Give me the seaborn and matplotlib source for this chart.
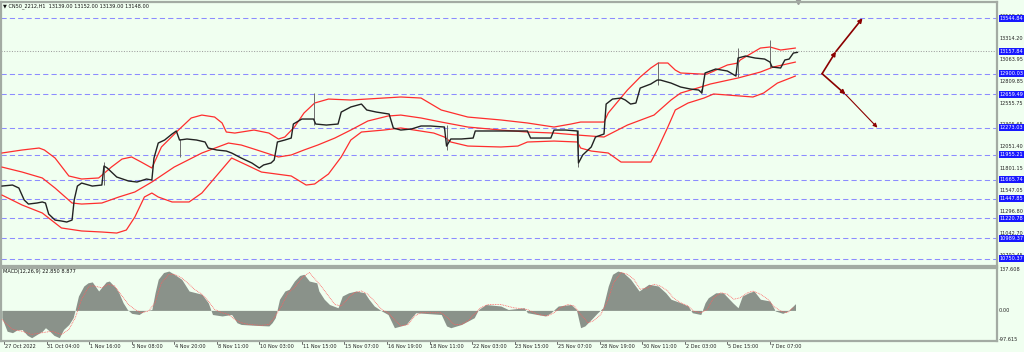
import matplotlib
matplotlib.use("Agg")
import matplotlib.pyplot as plt
import matplotlib.transforms as mtransforms
from matplotlib import font_manager
import pandas as pd
import seaborn as sns

# ---------------- data ----------------
title_text = "\u25bc CN50_2212,H1  13139.00 13152.00 13139.00 13148.00"
macd_text = "MACD(12,26,9) 22.850 8.877"

date_labels = ["27 Oct 2022", "31 Oct 04:00", "1 Nov 16:00", "3 Nov 08:00", "4 Nov 20:00",
               "8 Nov 11:00", "10 Nov 03:00", "11 Nov 15:00", "15 Nov 07:00", "16 Nov 19:00",
               "18 Nov 11:00", "22 Nov 03:00", "23 Nov 15:00", "25 Nov 07:00", "28 Nov 19:00",
               "30 Nov 11:00", "2 Dec 03:00", "5 Dec 15:00", "7 Dec 07:00"]
date_bars = [0, 40, 80, 120, 160, 200, 240, 280, 320, 360, 400, 440, 480, 520, 560, 600, 640, 680, 720]

price_bar = [-2, 8, 14, 19, 23, 31, 36, 39, 42, 48, 54, 59, 64, 66, 69, 73, 83, 92, 94, 97,
             106, 117, 125, 134, 139, 141, 145, 151, 158, 162, 165, 172, 181, 189, 192, 200, 209, 214, 223, 233,
             240, 244, 251, 254, 257, 264, 270, 272, 280, 285, 291, 293, 303, 314, 317, 326, 336, 341, 350, 362,
             366, 373, 383, 392, 401, 414, 416, 420, 430, 441, 443, 458, 477, 492, 495, 505, 514, 517, 528, 539,
             540, 544, 552, 556, 564, 566, 572, 580, 584, 589, 594, 598, 608, 614, 617, 627, 636, 645, 653, 656,
             659, 669, 680, 688, 690, 697, 706, 715, 720, 722, 730, 734, 738, 742, 746]
price_close = [11594, 11606, 11571, 11432, 11385, 11397, 11409, 11397, 11269, 11199, 11188, 11176, 11199, 11432, 11594, 11629, 11594, 11606, 11827, 11804,
               11699, 11653, 11641, 11676, 11664, 11920, 12094, 12129, 12199, 12234, 12129, 12141, 12129, 12106, 12036, 12013, 12001, 11978, 11920, 11862,
               11804, 11839, 11862, 11897, 12106, 12129, 12152, 12315, 12373, 12373, 12373, 12315, 12303, 12315, 12454, 12513, 12547, 12478, 12454, 12431,
               12268, 12245, 12257, 12292, 12292, 12280, 12059, 12141, 12141, 12152, 12234, 12234, 12234, 12234, 12152, 12152, 12152, 12245, 12245, 12234,
               11862, 11955, 12048, 12164, 12199, 12547, 12605, 12617, 12594, 12547, 12559, 12733, 12780, 12826, 12826, 12791, 12745, 12722, 12710, 12675,
               12908, 12954, 12931, 12873, 13082, 13105, 13082, 13070, 13035, 12977, 12966, 13059, 13070, 13140, 13148]

wick_bar = [94, 165, 291, 416, 540, 615, 655, 690, 720]
wick_high = [11873, 12141, 12675, 12303, 12245, 13035, 12722, 13198, 13291]
wick_low = [11606, 11932, 12303, 12013, 11815, 12768, 12675, 12861, 12966]

bb_upper_bar = [-2, 17, 33, 38, 48, 61, 73, 89, 101, 111, 120, 129, 139, 148, 164, 176, 186, 198, 205, 209,
                217, 235, 249, 258, 264, 273, 282, 292, 305, 326, 373, 392, 411, 436, 467, 492, 517, 533, 542, 564,
                568, 586, 598, 608, 615, 624, 631, 636, 655, 661, 680, 690, 692, 711, 720, 730, 744]
bb_upper = [11978, 12013, 12036, 12013, 11920, 11711, 11676, 11688, 11815, 11908, 11932, 11873, 11804, 12048, 12245, 12385, 12419, 12396, 12327, 12222,
            12210, 12245, 12210, 12141, 12164, 12280, 12443, 12559, 12605, 12594, 12629, 12617, 12478, 12396, 12362, 12327, 12280, 12315, 12338, 12338,
            12443, 12710, 12861, 12966, 13024, 13024, 12942, 12908, 12896, 12896, 13001, 13024, 13059, 13198, 13210, 13175, 13198]

bb_mid_bar = [-2, 17, 36, 48, 64, 73, 92, 108, 123, 139, 160, 186, 211, 223, 235, 258, 270, 282, 295, 311,
              326, 342, 361, 373, 392, 411, 436, 467, 492, 517, 539, 564, 586, 611, 627, 636, 655, 664, 690, 711,
              723, 744]
bb_mid = [11815, 11757, 11688, 11571, 11397, 11385, 11397, 11467, 11525, 11641, 11815, 11978, 12094, 12071, 12024, 11932, 11955, 12013, 12071, 12152,
          12245, 12350, 12408, 12419, 12385, 12338, 12280, 12245, 12222, 12210, 12187, 12164, 12303, 12419, 12594, 12675, 12745, 12780, 12850, 12919,
          12977, 13035]

bb_lower_bar = [-2, 17, 36, 48, 54, 73, 92, 106, 115, 123, 132, 139, 145, 158, 174, 186, 202, 214, 228, 242,
                270, 284, 292, 305, 317, 326, 336, 357, 373, 404, 414, 420, 436, 467, 483, 492, 517, 539, 542, 552,
                568, 580, 608, 614, 624, 631, 643, 658, 667, 680, 704, 714, 727, 744]
bb_lower = [11490, 11374, 11281, 11165, 11107, 11072, 11060, 11048, 11083, 11234, 11467, 11513, 11467, 11409, 11409, 11513, 11746, 11920, 11839, 11757,
            11711, 11606, 11618, 11734, 11932, 12129, 12222, 12245, 12269, 12210, 12164, 12106, 12059, 12048, 12059, 12106, 12117, 12106, 12036, 12001,
            11978, 11873, 11873, 12013, 12280, 12478, 12559, 12617, 12664, 12652, 12629, 12675, 12791, 12873]

macd_bar = [-2, 3, 8, 12, 17, 22, 26, 31, 36, 39, 43, 47, 52, 56, 61, 65, 67, 70, 75, 79,
            83, 89, 96, 99, 105, 108, 112, 116, 120, 127, 132, 139, 142, 145, 150, 155, 160, 167, 174, 186,
            192, 196, 205, 214, 219, 223, 237, 249, 252, 255, 259, 264, 268, 273, 278, 282, 287, 294, 296, 301,
            306, 314, 318, 324, 331, 339, 343, 348, 355, 361, 367, 373, 378, 383, 387, 411, 416, 420, 430, 442,
            446, 453, 467, 474, 489, 492, 509, 514, 521, 533, 538, 542, 546, 552, 558, 563, 568, 572, 577, 582,
            589, 597, 606, 615, 622, 627, 636, 643, 647, 655, 659, 662, 669, 676, 685, 690, 694, 700, 705, 711,
            720, 725, 732, 737, 744]
macd_hist = [-25, -71, -76, -67, -65, -85, -93, -82, -71, -59, -71, -85, -93, -65, -48, -25, 3, 49, 83, 94,
             97, 66, 97, 100, 77, 60, 26, 3, -10, -14, -2, 3, 60, 106, 129, 134, 123, 106, 66, 55,
             26, -14, -19, -14, -42, -48, -51, -53, -42, -25, 38, 66, 72, 100, 119, 123, 100, 94, 66, 38,
             20, 9, 49, 60, 66, 60, 38, 15, -2, -14, -59, -53, -48, -25, -8, -14, -53, -59, -48, -25,
             3, 20, 15, 3, 9, -8, -19, -8, 15, 20, 3, -59, -53, -31, -8, 9, 83, 123, 134, 129,
             106, 66, 89, 83, 60, 38, 26, 15, -8, -14, 26, 43, 60, 60, 26, 9, 49, 60, 66, 38,
             32, -2, -10, -2, 23]

signal_bar = [-2, 8, 17, 26, 36, 45, 54, 61, 67, 73, 80, 85, 92, 98, 104, 111, 117, 123, 129, 136,
              142, 148, 155, 160, 167, 174, 179, 186, 192, 198, 205, 211, 217, 223, 230, 242, 249, 254, 261, 267,
              273, 280, 287, 298, 305, 311, 317, 324, 329, 336, 342, 348, 355, 361, 367, 373, 380, 386, 392, 411,
              417, 423, 430, 436, 442, 448, 455, 467, 479, 492, 502, 511, 517, 523, 530, 536, 542, 549, 554, 561,
              568, 573, 580, 586, 592, 598, 605, 611, 617, 624, 629, 636, 643, 648, 655, 661, 667, 674, 680, 686,
              692, 699, 704, 711, 718, 723, 730, 736, 742]
macd_signal = [-31, -65, -71, -82, -76, -71, -82, -65, -25, 38, 83, 83, 77, 89, 83, 49, 20, 3, -8, -2,
               26, 94, 123, 123, 111, 89, 72, 55, 32, 3, -8, -14, -31, -42, -48, -51, -48, -25, 15, 60,
               77, 111, 129, 83, 49, 20, 15, 43, 60, 66, 55, 32, 3, -8, -31, -53, -48, -19, -8, -8,
               -25, -48, -48, -36, -14, 9, 20, 20, 9, 3, -14, -19, -8, 9, 20, 15, -14, -42, -36, -14,
               38, 94, 129, 123, 106, 72, 77, 89, 83, 66, 43, 26, 15, -2, -8, 3, 43, 60, 55, 38,
               43, 60, 66, 55, 38, 15, -2, -8, 9]

level_prices = [13544.84, 12900.03, 12659.49, 12273.03, 11955.21, 11665.74, 11447.85, 11220.78, 10989.37, 10750.37]
current_price = 13157.84
scale_ticks = [13568.30, 13314.20, 13063.95, 12809.85, 12555.75, 12305.65, 12051.40, 11801.15,
               11547.05, 11296.80, 11042.70, 10792.45]
macd_ticks = [137.608, 0.0, -97.615]
macd_tick_labels = ["137.608", "0.00", "-97.615"]

arrow_start_bar = 769
arrow_start_price = 12900.03
arrow_up_bars = [782, 807]
arrow_up_prices = [13157.84, 13544.84]
arrow_down_bars = [791, 821]
arrow_down_prices = [12659.49, 12273.03]

# ---------------- style ----------------
BG = "#F0FFF0"
GRID = "#8C8CFF"
FRAME = "#A3ABA3"
BAND = "#FF2E2E"
ARROW = "#8B0000"
BOX = "#1818FF"

sns.set_style("white")
installed = {f.name for f in font_manager.fontManager.ttflist}
if "Liberation Sans Narrow" in installed:
    SMALL = ["Liberation Sans Narrow", "DejaVu Sans"]
    FS = 4.6
else:
    SMALL = ["DejaVu Sans"]
    FS = 3.6
plt.rcParams["font.family"] = SMALL

W, H = 1024, 352
fig = plt.figure(figsize=(W / 100, H / 100), dpi=100, facecolor=BG)

ax = fig.add_axes([1 / W, 1 - 266 / H, 996 / W, 264 / H])
axm = fig.add_axes([1 / W, 1 - 341 / H, 996 / W, 73 / H], sharex=ax)
for a in (ax, axm):
    a.set_facecolor(BG)
    for s in a.spines.values():
        s.set_color(FRAME)
        s.set_linewidth(1.6)
    a.tick_params(left=False, right=False, bottom=False, top=False,
                  labelleft=False, labelbottom=False)

xlim = (-2.8, 933.4)
ax.set_xlim(*xlim)
ax.set_ylim(10665, 13733)
axm.set_ylim(-104.3, 144.4)

# levels
for lv in level_prices:
    ln = ax.axhline(lv, color=GRID, lw=0.75, dashes=(5, 3), zorder=1)
    ln.set_snap(True)
cl = ax.axhline(current_price, color="#A0A0A0", lw=0.75, ls=(0, (1, 1.5)), zorder=1)
cl.set_snap(True)

# bollinger bands
for bx, by in ((bb_upper_bar, bb_upper), (bb_mid_bar, bb_mid), (bb_lower_bar, bb_lower)):
    sns.lineplot(x=bx, y=by, ax=ax, color=BAND, lw=0.9, zorder=3, sort=False)

# price
ax.vlines(wick_bar, wick_low, wick_high, color="#6d6d6d", lw=0.7, zorder=4)
sns.lineplot(x=price_bar, y=price_close, ax=ax, color="#222222", lw=1.0, zorder=5, sort=False)

# shift marker
ax.plot([price_bar[-1]], [1.0], marker="v", ms=3, color="#9a9a9a",
        transform=mtransforms.blended_transform_factory(ax.transData, ax.transAxes), clip_on=False)

# arrows
def arrow(a, x0, y0, x1, y1, lw):
    a.annotate("", xy=(x1, y1), xytext=(x0, y0),
               arrowprops=dict(arrowstyle="-|>", color=ARROW, lw=lw, mutation_scale=6,
                               shrinkA=0, shrinkB=0), zorder=6)

arrow(ax, arrow_start_bar, arrow_start_price, arrow_up_bars[0], arrow_up_prices[0], 1.2)
arrow(ax, arrow_up_bars[0], arrow_up_prices[0], arrow_up_bars[1], arrow_up_prices[1], 1.2)
arrow(ax, arrow_start_bar, arrow_start_price, arrow_down_bars[0], arrow_down_prices[0], 1.2)
arrow(ax, arrow_down_bars[0], arrow_down_prices[0], arrow_down_bars[1], arrow_down_prices[1], 0.8)

# right price scale
tr = mtransforms.blended_transform_factory(fig.transFigure, ax.transData)
for t in scale_ticks:
    ax.text(1000 / W, t, f"{t:.2f}", transform=tr, fontsize=FS, color="#222222",
            va="center", ha="left", clip_on=False, zorder=7)
for lv in level_prices + [current_price]:
    ax.text(999.5 / W, lv, f"{lv:.2f}", transform=tr, fontsize=FS, color="white",
            va="center", ha="left", clip_on=False, zorder=8,
            bbox=dict(boxstyle="square,pad=0.2", fc=BOX, ec="none"))

ax.text(3 / W, 1 - 6 / H, title_text, transform=fig.transFigure, fontsize=FS,
        color="#111111", va="center", ha="left")

# MACD panel
mdf = pd.DataFrame({"bar": macd_bar, "hist": macd_hist})
axm.fill_between(mdf["bar"], 0, mdf["hist"], color="#8A928A", lw=0, zorder=2)
sns.lineplot(x=signal_bar, y=macd_signal, ax=axm, color="#FF6060", lw=0.6,
             linestyle=(0, (1, 1)), zorder=3, sort=False)
trm = mtransforms.blended_transform_factory(fig.transFigure, axm.transData)
for v, lab in zip(macd_ticks, macd_tick_labels):
    axm.text(999 / W, v, lab, transform=trm, fontsize=FS, color="#222222",
             va="center", ha="left", clip_on=False)
axm.text(3 / W, 1 - 271 / H, macd_text, transform=fig.transFigure, fontsize=FS,
         color="#111111", va="center", ha="left")

# date axis
trd = mtransforms.blended_transform_factory(axm.transData, fig.transFigure)
for b, lab in zip(date_bars, date_labels):
    axm.plot([b, b], [1 - 341 / H, 1 - 344 / H], color="#555555", lw=0.6,
             transform=trd, clip_on=False)
    axm.text(b + 0.8, 1 - 346.5 / H, lab, transform=trd, fontsize=FS, color="#222222",
             va="center", ha="left", clip_on=False)

for a in (ax, axm):
    a.set_xlabel("")
    a.set_ylabel("")
    a.set_xlim(*xlim)

fig.savefig("out.png", dpi=100, facecolor=BG)
